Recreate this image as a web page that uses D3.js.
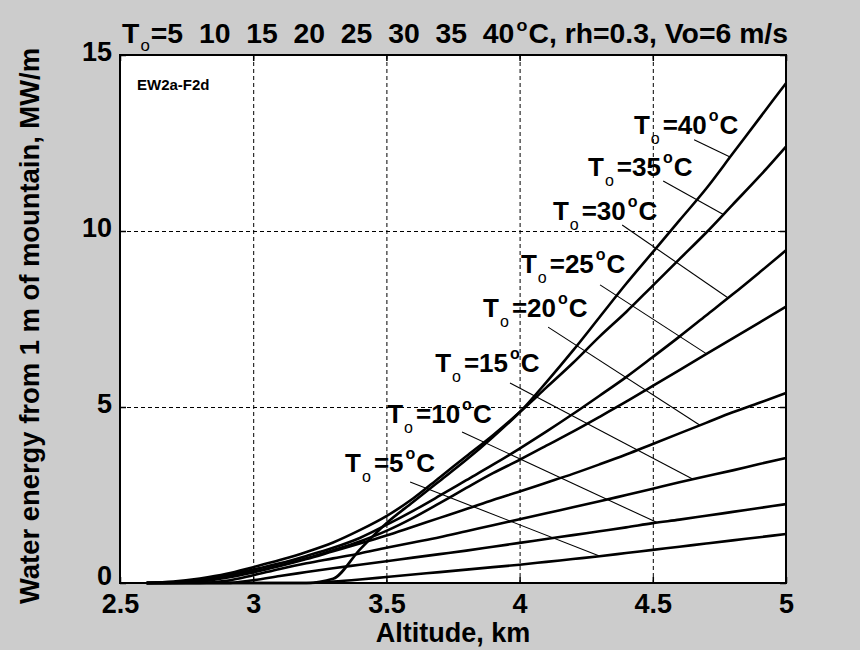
<!DOCTYPE html>
<html><head><meta charset="utf-8">
<script src="https://cdn.jsdelivr.net/npm/d3@7"></script>
<style>
html,body{margin:0;padding:0;background:#cccccc;}
svg{display:block;}
text{font-family:"Liberation Sans",Arial,Helvetica,sans-serif;font-weight:bold;fill:#000;}
</style></head><body>
<svg id="chart" width="860" height="650"></svg>
<script>
// ---- data ----
const altitude = [2.6,2.7,2.8,2.9,3.0,3.1,3.2,3.3,3.4,3.5,3.6,3.7,3.8,3.9,4.0,4.1,4.2,4.3,4.4,4.5,4.6,4.7,4.8,4.9,5.0];
const temps = [5,10,15,20,25,30,35,40];
const energyT5  = [0,0,0,0,0,0,0,0.04,0.1,0.17,0.24,0.31,0.38,0.45,0.52,0.6,0.68,0.76,0.85,0.94,1.03,1.12,1.21,1.3,1.39];
const energyT10 = [0,0,0,0,0.08,0.2,0.31,0.42,0.52,0.62,0.72,0.82,0.92,1.03,1.14,1.25,1.36,1.47,1.58,1.7,1.8,1.91,2.02,2.13,2.24];
const energyT15 = [0,0,0,0.06,0.22,0.4,0.56,0.7,0.84,1.0,1.15,1.3,1.47,1.64,1.81,1.98,2.15,2.32,2.5,2.68,2.86,3.03,3.2,3.38,3.55];
const energyT20 = [0,0,0.04,0.15,0.3,0.48,0.68,0.9,1.12,1.35,1.6,1.85,2.1,2.36,2.6,2.85,3.1,3.37,3.65,3.95,4.25,4.55,4.85,5.12,5.4];
const energyT25 = [0,0.01,0.07,0.18,0.33,0.5,0.7,0.93,1.18,1.48,1.85,2.27,2.7,3.12,3.5,3.9,4.3,4.72,5.15,5.6,6.05,6.5,6.95,7.4,7.85];
const energyT30 = [0,0.02,0.1,0.22,0.38,0.56,0.77,1.0,1.28,1.65,2.05,2.48,2.92,3.36,3.82,4.3,4.8,5.32,5.85,6.42,7.0,7.6,8.2,8.82,9.45];
const energyT35 = [0,0.04,0.13,0.26,0.45,0.65,0.88,1.15,1.5,1.9,2.4,3.0,3.6,4.2,4.85,5.55,6.25,7.0,7.7,8.45,9.2,9.95,10.75,11.55,12.4];
const energyT40 = [0,0,0,0,0,0,0,0.12,0.95,1.7,2.3,2.9,3.5,4.15,4.85,5.7,6.6,7.55,8.5,9.4,10.3,11.2,12.2,13.2,14.2];
const seriesValues = [energyT5,energyT10,energyT15,energyT20,energyT25,energyT30,energyT35,energyT40];

// label anchors (altitude km, energy MW/m) and leader lines
const labelAlt = [3.345,3.503,3.683,3.863,4.005,4.125,4.257,4.429];
const labelVal = [3.15,4.55,6.00,7.56,8.81,10.31,11.56,12.76];
const leaderStartAlt = [3.589,3.784,3.964,4.107,4.302,4.385,4.539,4.655];
const leaderStartVal = [2.87,4.29,5.68,7.27,8.47,10.17,11.42,12.59];
const leaderEndAlt   = [4.302,4.516,4.651,4.677,4.702,4.783,4.765,4.79];

const xTicks = [2.5,3,3.5,4,4.5,5];
const xTickLabels = ["2.5","3","3.5","4","4.5","5"];
const yTicks = [0,5,10,15];
const yTickLabels = ["0","5","10","15"];
const xGrid = [3,3.5,4,4.5];
const yGrid = [5,10];

const titleNumbers = "=5  10  15  20  25  30  35  40";
const titleTail = "C, rh=0.3, Vo=6 m/s";
const xLabel = "Altitude, km";
const yLabel = "Water energy from 1 m of mountain, MW/m";
const tag = "EW2a-F2d";

// ---- drawing ----
const svg = d3.select("#chart");
const L=120, R=786, T=55, B=583;
const x = d3.scaleLinear().domain([2.5,5]).range([L,R]);
const y = d3.scaleLinear().domain([0,15]).range([B,T]);

svg.append("rect").attr("width",860).attr("height",650).attr("fill","#cccccc");
svg.append("rect").attr("x",L).attr("y",T).attr("width",R-L).attr("height",B-T).attr("fill","#ffffff");

// grid
const grid = svg.append("g").attr("stroke","#000").attr("stroke-width",1).attr("stroke-dasharray","4,3");
grid.selectAll("line.gx").data(xGrid).enter().append("line")
  .attr("x1",d=>x(d)+0.5).attr("x2",d=>x(d)+0.5).attr("y1",T).attr("y2",B);
grid.selectAll("line.gy").data(yGrid).enter().append("line")
  .attr("y1",d=>y(d)+0.5).attr("y2",d=>y(d)+0.5).attr("x1",L).attr("x2",R);

// curves
const line = d3.line().x(d=>x(d[0])).y(d=>y(d[1])).curve(d3.curveMonotoneX);
const curves = svg.append("g").attr("fill","none").attr("stroke","#000").attr("stroke-width",2.6).attr("stroke-linejoin","round");
seriesValues.forEach(vals=>{
  curves.append("path").attr("d", line(altitude.map((a,i)=>[a,vals[i]])));
});

// leaders
const leaders = svg.append("g").attr("stroke","#000").attr("stroke-width",1.1);
temps.forEach((t,i)=>{
  const interp = d3.scaleLinear().domain(altitude).range(seriesValues[i]);
  leaders.append("line")
    .attr("x1",x(leaderStartAlt[i])).attr("y1",y(leaderStartVal[i]))
    .attr("x2",x(leaderEndAlt[i])).attr("y2",y(interp(leaderEndAlt[i])));
});

// curve labels
temps.forEach((t,i)=>{
  const tx = svg.append("text").attr("x",x(labelAlt[i])).attr("y",y(labelVal[i])).attr("font-size",26);
  tx.append("tspan").text("T");
  tx.append("tspan").text("o").attr("font-size",16).attr("font-weight","normal").attr("dy",10).attr("dx",1);
  tx.append("tspan").text("="+t).attr("dy",-10).attr("dx",3);
  tx.append("tspan").text("o").attr("font-size",16).attr("dy",-13).attr("dx",2);
  tx.append("tspan").text("C").attr("dy",13).attr("dx",1);
});

// axes box + ticks
const axG = svg.append("g");
const axBottom = axG.append("g").attr("transform",`translate(0,${B})`)
  .call(d3.axisBottom(x).tickValues(xTicks).tickFormat((d,i)=>xTickLabels[i]).tickSize(-6).tickPadding(11));
const axLeft = axG.append("g").attr("transform",`translate(${L},0)`)
  .call(d3.axisLeft(y).tickValues(yTicks).tickFormat((d,i)=>yTickLabels[i]).tickSize(-6).tickPadding(8));
const axTop = axG.append("g").attr("transform",`translate(0,${T})`)
  .call(d3.axisTop(x).tickValues(xTicks).tickFormat("").tickSize(-6));
const axRight = axG.append("g").attr("transform",`translate(${R},0)`)
  .call(d3.axisRight(y).tickValues(yTicks).tickFormat("").tickSize(-6));
[axBottom,axLeft,axTop,axRight].forEach(g=>{
  g.attr("font-family",null).attr("font-size",null);
  g.select(".domain").remove();
  g.selectAll(".tick line").attr("stroke","#000").attr("stroke-width",1.5);
  g.selectAll("text").attr("font-size",27).attr("fill","#000");
});
axLeft.selectAll("text").attr("dy",(d,i)=> i===0 ? "0.05em" : "0.2em");
svg.append("rect").attr("x",L).attr("y",T).attr("width",R-L).attr("height",B-T)
  .attr("fill","none").attr("stroke","#000").attr("stroke-width",2);

// title
const title = svg.append("text").attr("x",122).attr("y",43).attr("font-size",27)
  .attr("xml:space","preserve").style("white-space","pre");
title.append("tspan").text("T");
title.append("tspan").text("o").attr("font-size",16).attr("font-weight","normal").attr("dy",8).attr("dx",1);
title.append("tspan").text(titleNumbers).attr("dy",-8).attr("dx",1);
title.append("tspan").text("o").attr("font-size",17).attr("dy",-12).attr("dx",2);
title.append("tspan").text(titleTail).attr("dy",12).attr("dx",1);
const tw = title.node().getComputedTextLength();
const sx = (783-122)/tw;
title.attr("transform",`translate(${122*(1-sx)},0) scale(${sx},1)`);

// axis labels
svg.append("text").attr("x",(L+R)/2).attr("y",642).attr("text-anchor","middle").attr("font-size",27).text(xLabel);
svg.append("text").attr("transform","translate(39,326) rotate(-90)").attr("text-anchor","middle").attr("font-size",27)
  .attr("textLength",556).attr("lengthAdjust","spacingAndGlyphs").text(yLabel);

// tag
svg.append("text").attr("x",137).attr("y",90).attr("font-size",15).text(tag);
</script>
</body></html>
